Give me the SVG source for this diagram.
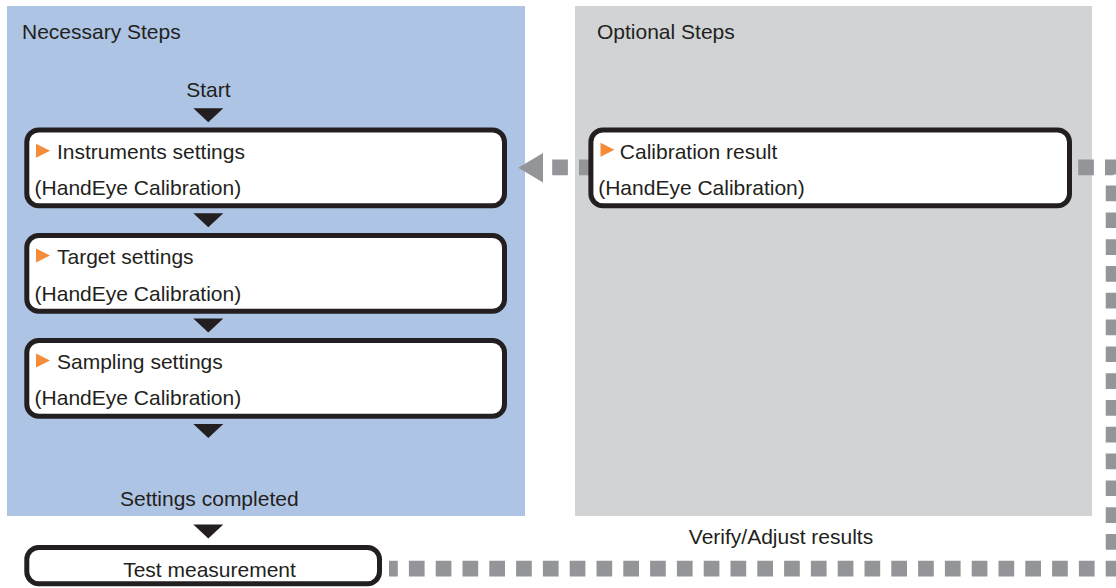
<svg xmlns="http://www.w3.org/2000/svg" width="1116" height="588" viewBox="0 0 1116 588">
  <style>
    text { font-family: "Liberation Sans", Arial, sans-serif; font-size: 21px; fill: #231f20; }
    .mid { text-anchor: middle; }
    .box { fill: #ffffff; stroke: #231f20; stroke-width: 5; }
    .flow { fill: #231f20; }
    .mark { fill: #f68b38; }
    .dash { fill: none; stroke: #939598; stroke-width: 15.7; stroke-dasharray: 15.7 11.1; }
  </style>
  <defs>
    <polygon id="down" points="-15,0 15,0 0,14"/>
    <polygon id="mk" points="0,0 14,7 0,14"/>
  </defs>

  <g id="panel-necessary">
    <rect x="7" y="6" width="518" height="510" fill="#aec4e4"/>
    <text x="22" y="39.3">Necessary Steps</text>
  </g>
  <g id="panel-optional">
    <rect x="575" y="6" width="517" height="510" fill="#d1d3d5"/>
    <text x="597" y="39.3">Optional Steps</text>
  </g>

  <g id="connectors">
    <path class="dash" d="M389 568.6 H1113.6 V167.4 H1070" stroke-dashoffset="6.9"/>
    <path class="dash" d="M594.7 167.4 H543"/>
    <polygon points="518.3,167.8 543,153 543,182.6" fill="#939598"/>
    <text class="mid" x="781" y="544">Verify/Adjust results</text>
  </g>

  <g id="start">
    <text class="mid" x="208.4" y="96.7">Start</text>
    <use href="#down" x="208.3" y="108.3" class="flow"/>
  </g>

  <g id="node-instruments">
    <rect class="box" x="26.8" y="130" width="477.7" height="75.8" rx="12"/>
    <use href="#mk" x="36" y="143.8" class="mark"/>
    <text x="57" y="158.6">Instruments settings</text>
    <text x="34.6" y="195.2">(HandEye Calibration)</text>
  </g>
  <use href="#down" x="208.3" y="213.3" class="flow"/>

  <g id="node-target">
    <rect class="box" x="26.8" y="235.5" width="477.7" height="75.8" rx="12"/>
    <use href="#mk" x="36" y="248.5" class="mark"/>
    <text x="57" y="264">Target settings</text>
    <text x="34.6" y="300.7">(HandEye Calibration)</text>
  </g>
  <use href="#down" x="208.3" y="318.5" class="flow"/>

  <g id="node-sampling">
    <rect class="box" x="26.8" y="340.5" width="477.7" height="75.8" rx="12"/>
    <use href="#mk" x="36" y="353.5" class="mark"/>
    <text x="57" y="368.5">Sampling settings</text>
    <text x="34.6" y="405.2">(HandEye Calibration)</text>
  </g>
  <use href="#down" x="208.3" y="424" class="flow"/>

  <g id="settings-completed">
    <text class="mid" x="209.3" y="506">Settings completed</text>
    <use href="#down" x="208.3" y="524.5" class="flow"/>
  </g>

  <g id="node-test">
    <rect class="box" x="26.8" y="547.5" width="352.7" height="36.3" rx="12"/>
    <text class="mid" x="209.5" y="576.7">Test measurement</text>
  </g>

  <g id="node-calibration">
    <rect class="box" x="590.9" y="130" width="478.6" height="75.8" rx="12"/>
    <use href="#mk" x="600.5" y="142.8" class="mark"/>
    <text x="619.8" y="158.6">Calibration result</text>
    <text x="598.2" y="195.2">(HandEye Calibration)</text>
  </g>
</svg>
